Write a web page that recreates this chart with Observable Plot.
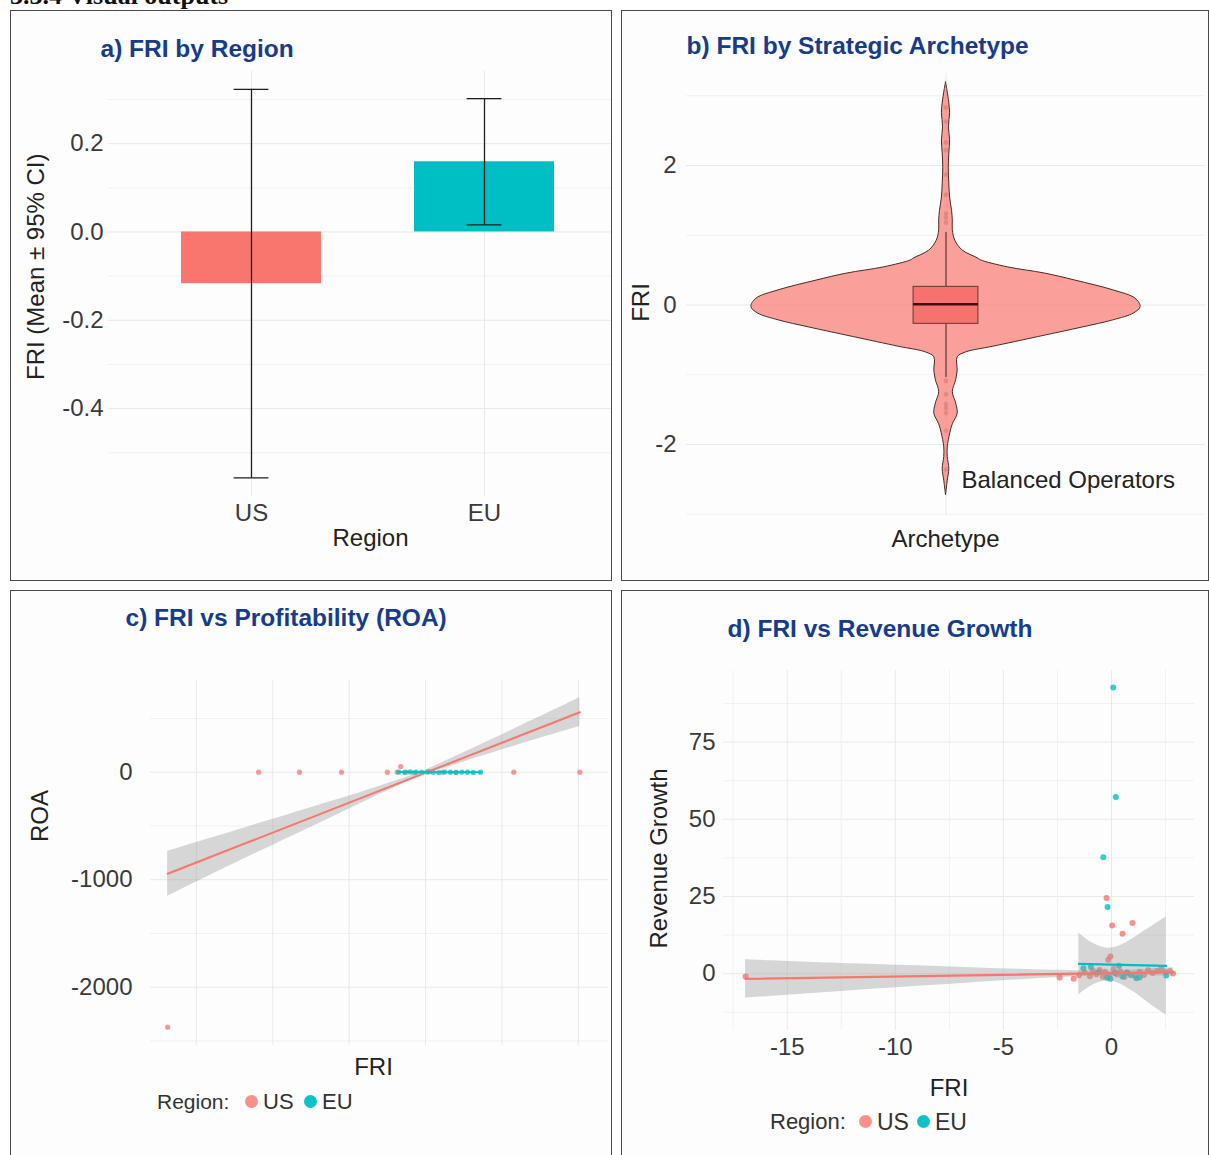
<!DOCTYPE html>
<html>
<head>
<meta charset="utf-8">
<script src="https://cdn.jsdelivr.net/npm/d3@7"></script>
<script src="https://cdn.jsdelivr.net/npm/@observablehq/plot@0.6"></script>
<style>
  html, body { margin: 0; padding: 0; background: #ffffff; }
  body { position: relative; width: 1209px; height: 1155px; overflow: hidden; font-family: "Liberation Sans", Arial, Helvetica, sans-serif; }
  .heading { position: absolute; left: 10px; top: -19px; font: bold 26px "Liberation Serif", "Times New Roman", serif; color: #111; white-space: nowrap; }
  .panel { position: absolute; border: 1px solid #4a4a4a; background: #fdfdfd; box-sizing: content-box; }
  .panel svg { position: absolute; left: 0; top: 0; overflow: visible; }
  .leg { position: absolute; font-size: 21px; color: #333; line-height: 24px; white-space: nowrap; }
  .dot { position: absolute; width: 13px; height: 13px; border-radius: 50%; }
</style>
</head>
<body>
<div class="heading">3.3.4 Visual outputs</div>
<div class="panel" id="pa" style="left:10px;top:10px;width:600px;height:569px"></div>
<div class="panel" id="pb" style="left:621px;top:10px;width:586px;height:569px"></div>
<div class="panel" id="pc" style="left:10px;top:590px;width:600px;height:570px"></div>
<div class="panel" id="pd" style="left:621px;top:590px;width:586px;height:570px"></div>
<script>
// ---------------- DATA ----------------
// a) FRI by Region (mean ± 95% CI)
const regions = ["US", "EU"];
const regionColors = ["#F8766D", "#00BFC4"];
const friMean = [-0.117, 0.159];
const ciLow = [-0.557, 0.016];
const ciHigh = [0.323, 0.302];
const aTicks = [-0.4, -0.2, 0.0, 0.2];
const aMinor = [-0.5, -0.3, -0.1, 0.1, 0.3];

// b) FRI by Strategic Archetype (violin profile read from picture)
const archetypes = ["Balanced Operators"];
const violinFRI = [3.19, 3.08, 2.89, 2.75, 2.55, 2.36, 2.17, 1.97, 1.74, 1.54, 1.35, 1.21, 1.07, 0.92, 0.78, 0.67, 0.64, 0.54, 0.45, 0.35, 0.21, 0.09, -0.03, -0.12, -0.22, -0.32, -0.46, -0.6, -0.68, -0.75, -0.94, -1.08, -1.25, -1.41, -1.56, -1.71, -1.84, -2.04, -2.18, -2.35, -2.52, -2.73];
const violinDensity = [0, 0.007, 0.017, 0.021, 0.015, 0.021, 0.017, 0.014, 0.017, 0.021, 0.031, 0.035, 0.035, 0.048, 0.086, 0.163, 0.18, 0.318, 0.51, 0.665, 0.86, 0.974, 1.0, 0.967, 0.86, 0.706, 0.474, 0.24, 0.103, 0.06, 0.06, 0.052, 0.035, 0.052, 0.06, 0.035, 0.022, 0.009, 0.009, 0.017, 0.009, 0];
const boxQ1 = -0.27, boxMedian = 0.01, boxQ3 = 0.26, whiskerLow = -1.04, whiskerHigh = 1.04;
const violinPoints = [2.83, 2.63, 2.33, 2.22, 1.87, 1.58, 1.31, 1.25, 1.18, -1.09, -1.28, -1.42, -1.48, -1.55, -1.80, -2.36];
const bTicks = [-2, 0, 2];
const bMinor = [-3, -1, 1, 3];

// c) FRI vs Profitability (ROA)
const cUsFri = [-6.75, -4.37, -3.3, -2.2, -1.0, -0.74, -0.65, -0.5, -0.3, 0.1, 0.45, 0.8, 2.31, 4.04];
const cUsRoa = [-2372, 0, 0, 0, 0, 0, 53, 0, -5, 5, 0, -3, 0, 0];
const cEuFri = [-0.7, -0.55, -0.4, -0.25, -0.1, 0.05, 0.2, 0.35, 0.5, 0.65, 0.8, 0.95, 1.1, 1.25, 1.44];
const cEuRoa = [2, -1, 3, 0, -2, 1, 0, -3, 2, 0, -1, 1, 0, -2, 0];
const cUsFitFri = [-6.75, 4.04];
const cUsFitRoa = [-945, 558];
const cEuFitFri = [-0.7, 1.44];
const cEuFitRoa = [2, -1];
const cUsBandFri = [-6.75, -5, -3, -1.5, -0.2, 1, 2.5, 4.04];
const cUsBandLo = [-1155, -850, -512, -258, -50, 95, 262, 425];
const cUsBandHi = [-735, -546, -330, -166, -8, 180, 432, 692];
const cTicks = [-2000, -1000, 0];
const cMinor = [-2500, -1500, -500, 500];
const cXGrid = [-6, -4, -2, 0, 2, 4];

// d) FRI vs Revenue Growth
const dUsFri = [-16.93, -2.4, -1.75, -1.5, -1.25, -1.0, -0.85, -0.7, -0.55, -0.4, -0.23, -0.15, -0.05, 0.03, -0.3, -0.1, 0.1, 0.25, 0.4, 0.51, 0.6, 0.75, 0.97, 1.1, 1.3, 1.5, 1.7, 1.9, 2.1, 2.3, 2.5, 2.7, 2.85];
const dUsRg = [-0.9, -1.2, -1.6, -0.5, 0.4, -0.8, 0.9, -0.2, 1.2, -1.0, 24.5, 4.5, 5.6, 15.6, 0.6, -0.6, 1.5, -0.3, 0.8, 12.9, -1.1, 0.3, 16.4, -0.7, 0.6, -0.4, 1.1, 0.2, 0.9, 1.6, 0.5, 0.9, 0.1];
const dEuFri = [-1.3, -0.95, -0.6, -0.38, -0.18, -0.2, -0.05, 0.08, 0.2, 0.15, 0.35, 0.5, 0.7, 0.9, 1.15, 1.3, 2.53];
const dEuRg = [1.8, 2.2, 0.5, 37.7, 21.6, -1.3, -1.6, 92.7, 57.2, 0.2, 2.6, -0.9, 0.4, -0.5, -1.5, -1.2, -0.6];
const dUsFitFri = [-16.93, 2.85];
const dUsFitRg = [-1.7, 0.52];
const dEuFitFri = [-1.51, 2.53];
const dEuFitRg = [3.2, 2.5];
const dUsBandFri = [-16.93, -12, -8, -4, -0.3, 2.85];
const dUsBandLo = [-7.9, -5.5, -3.7, -1.85, -0.63, -0.9];
const dUsBandHi = [4.5, 3.2, 2.3, 1.35, 0.97, 1.94];
const dEuBandFri = [-1.51, -1.0, -0.5, -0.15, 0.3, 1.0, 1.7, 2.53];
const dEuBandLo = [-6.8, -4.2, -2.7, -2.35, -3.0, -5.8, -9.4, -13.4];
const dEuBandHi = [13.2, 10.4, 8.7, 8.25, 8.8, 11.4, 14.6, 18.4];
const dXTicks = [-15, -10, -5, 0];
const dXMinor = [-17.5, -12.5, -7.5, -2.5, 2.5];
const dYTicks = [0, 25, 50, 75];
const dYMinor = [-12.5, 12.5, 37.5, 62.5, 87.5];

// ---------------- STYLE ----------------
const FONT = '"Liberation Sans", Arial, Helvetica, sans-serif';
const GRID = "#e9e9e9";
const GRID_MINOR = "#f1f1f1";
const TITLE = "#173c8c";
const INK = "#222222";
const baseStyle = {fontFamily: FONT, fontSize: "24px", color: "#3a3a3a", background: "transparent", overflow: "visible"};
const label = (txt, o) => Plot.text([txt], {text: d => d, lineAnchor: "middle", textAnchor: "middle", fill: INK, fontSize: 24, ...o});
const title = (txt, o) => Plot.text([txt], {text: d => d, lineAnchor: "middle", textAnchor: "start", fill: TITLE, fontSize: 24.5, fontWeight: "bold", ...o});
const zip = (keys, ...cols) => cols[0].map((_, i) => Object.fromEntries(keys.map((k, j) => [k, cols[j][i]])));
const ribbonFill = "#9a9a9a";

// ---------------- PANEL A ----------------
const aData = regions.map((r, i) => ({region: r, mean: friMean[i], lo: ciLow[i], hi: ciHigh[i]}));
const pa = Plot.plot({
  width: 600, height: 569, marginLeft: 97, marginRight: 0, marginTop: 59.5, marginBottom: 84,
  style: baseStyle,
  x: {type: "band", domain: regions, range: [99.6, 614], paddingInner: 0.4, paddingOuter: 0.3},
  y: {domain: [-0.599, 0.3645]},
  color: {domain: regions, range: regionColors},
  marks: [
    Plot.gridY(aMinor, {stroke: GRID_MINOR, strokeOpacity: 1}),
    Plot.gridY(aTicks, {stroke: GRID, strokeOpacity: 1}),
    Plot.gridX(regions, {stroke: GRID, strokeOpacity: 1}),
    Plot.barY(aData, {x: "region", y: "mean", fill: "region"}),
    Plot.ruleX(aData, {x: "region", y1: "lo", y2: "hi", stroke: "#1e1e1e", strokeWidth: 1.3}),
    Plot.tickY(aData, {x: "region", y: "lo", stroke: "#1e1e1e", strokeWidth: 1.3, insetLeft: 52.6, insetRight: 52.6}),
    Plot.tickY(aData, {x: "region", y: "hi", stroke: "#1e1e1e", strokeWidth: 1.3, insetLeft: 52.6, insetRight: 52.6}),
    Plot.axisY(aTicks, {tickSize: 0, tickPadding: 5, tickFormat: d => d.toFixed(1), label: null}),
    Plot.axisX({tickSize: 0, tickPadding: 7, label: null}),
    label("Region", {frameAnchor: "bottom", dx: 10.5, dy: 42}),
    label("FRI (Mean ± 95% CI)", {frameAnchor: "left", rotate: -90, dx: -72, dy: -17}),
    title("a) FRI by Region", {frameAnchor: "top-left", dx: -8, dy: -21.5})
  ]
});
document.getElementById("pa").append(pa);

// ---------------- PANEL B ----------------
const violin = zip(["fri", "density"], violinFRI, violinDensity);
const pb = Plot.plot({
  width: 586, height: 569, marginLeft: 64, marginRight: 3, marginTop: 62, marginBottom: 65,
  style: baseStyle,
  x: {domain: [-0.6, 0.6], axis: null},
  y: {domain: [-3.018, 3.319]},
  marks: [
    Plot.gridY(bMinor, {stroke: GRID_MINOR, strokeOpacity: 1}),
    Plot.gridY(bTicks, {stroke: GRID, strokeOpacity: 1}),
    Plot.gridX([0], {stroke: GRID, strokeOpacity: 1}),
    Plot.areaX(violin, {y: "fri", x1: d => -0.45 * d.density, x2: d => 0.45 * d.density, fill: "#F8766D", fillOpacity: 0.7, stroke: "#4a2a27", strokeWidth: 1, curve: "catmull-rom"}),
    Plot.dot(violinPoints, {x: 0, y: d => d, r: 2.4, fill: "#b9645d", fillOpacity: 0.35, stroke: "none"}),
    Plot.ruleX([0], {y1: whiskerLow, y2: boxQ1, stroke: "#3b2220", strokeWidth: 1}),
    Plot.ruleX([0], {y1: boxQ3, y2: whiskerHigh, stroke: "#3b2220", strokeWidth: 1}),
    Plot.rect([0], {x1: -0.075, x2: 0.075, y1: boxQ1, y2: boxQ3, fill: "#F5716A", fillOpacity: 0.95, stroke: "#6a3531", strokeWidth: 1}),
    Plot.ruleY([boxMedian], {x1: -0.075, x2: 0.075, stroke: "#3a1210", strokeWidth: 2.6}),
    Plot.axisY(bTicks, {tickSize: 0, tickPadding: 10, tickFormat: d => String(d), label: null}),
    Plot.text(archetypes, {text: d => d, frameAnchor: "bottom", textAnchor: "start", lineAnchor: "middle", fill: INK, fontSize: 24, dx: 15.5, dy: -35}),
    label("Archetype", {frameAnchor: "bottom", dx: -0.5, dy: 24}),
    label("FRI", {frameAnchor: "left", rotate: -90, dx: -45, dy: 8}),
    title("b) FRI by Strategic Archetype", {frameAnchor: "top-left", dx: 0, dy: -27})
  ]
});
document.getElementById("pb").append(pb);

// ---------------- PANEL C ----------------
const cPoints = [
  ...zip(["fri", "roa"], cUsFri, cUsRoa).map(d => ({...d, region: "US"})),
  ...zip(["fri", "roa"], cEuFri, cEuRoa).map(d => ({...d, region: "EU"}))
];
const cFits = [
  ...zip(["fri", "roa"], cUsFitFri, cUsFitRoa).map(d => ({...d, region: "US"})),
  ...zip(["fri", "roa"], cEuFitFri, cEuFitRoa).map(d => ({...d, region: "EU"}))
];
const cBand = zip(["fri", "lo", "hi"], cUsBandFri, cUsBandLo, cUsBandHi);
const pc = Plot.plot({
  width: 600, height: 564, marginLeft: 139, marginRight: 3, marginTop: 89, marginBottom: 110,
  style: baseStyle,
  x: {domain: [-7.2, 4.79], axis: null},
  y: {domain: [-2542, 853]},
  color: {domain: regions, range: regionColors},
  marks: [
    Plot.gridY(cMinor, {stroke: GRID_MINOR, strokeOpacity: 1}),
    Plot.gridY(cTicks, {stroke: GRID, strokeOpacity: 1}),
    Plot.gridX(cXGrid, {stroke: GRID, strokeOpacity: 1}),
    Plot.dot(cPoints, {x: "fri", y: "roa", fill: "region", r: 2.6, fillOpacity: 0.75}),
    Plot.areaY(cBand, {x: "fri", y1: "lo", y2: "hi", fill: ribbonFill, fillOpacity: 0.4, curve: "catmull-rom"}),
    Plot.line(cFits, {x: "fri", y: "roa", stroke: "region", z: "region", strokeWidth: 2}),
    Plot.axisY(cTicks, {tickSize: 0, tickPadding: 18, tickFormat: d => String(d), label: null}),
    label("FRI", {frameAnchor: "bottom", dx: -6, dy: 22}),
    label("ROA", {frameAnchor: "left", rotate: -90, dx: -110, dy: -47}),
    title("c) FRI vs Profitability (ROA)", {frameAnchor: "top-left", dx: -25, dy: -62})
  ]
});
document.getElementById("pc").append(pc);

// ---------------- PANEL D ----------------
const dPoints = [
  ...zip(["fri", "rg"], dUsFri, dUsRg).map(d => ({...d, region: "US"})),
  ...zip(["fri", "rg"], dEuFri, dEuRg).map(d => ({...d, region: "EU"}))
];
const dFits = [
  ...zip(["fri", "rg"], dUsFitFri, dUsFitRg).map(d => ({...d, region: "US"})),
  ...zip(["fri", "rg"], dEuFitFri, dEuFitRg).map(d => ({...d, region: "EU"}))
];
const dBands = [
  ...zip(["fri", "lo", "hi"], dUsBandFri, dUsBandLo, dUsBandHi).map(d => ({...d, region: "US"})),
  ...zip(["fri", "lo", "hi"], dEuBandFri, dEuBandLo, dEuBandHi).map(d => ({...d, region: "EU"}))
];
const pd = Plot.plot({
  width: 586, height: 564, marginLeft: 101, marginRight: 14, marginTop: 79, marginBottom: 125,
  style: baseStyle,
  x: {domain: [-17.95, 3.84]},
  y: {domain: [-18.4, 98.2]},
  color: {domain: regions, range: regionColors},
  marks: [
    Plot.gridY(dYMinor, {stroke: GRID_MINOR, strokeOpacity: 1}),
    Plot.gridY(dYTicks, {stroke: GRID, strokeOpacity: 1}),
    Plot.gridX(dXMinor, {stroke: GRID_MINOR, strokeOpacity: 1}),
    Plot.gridX(dXTicks, {stroke: GRID, strokeOpacity: 1}),
    Plot.dot(dPoints, {x: "fri", y: "rg", fill: "region", r: 3, fillOpacity: 0.8}),
    Plot.areaY(dBands, {x: "fri", y1: "lo", y2: "hi", z: "region", fill: ribbonFill, fillOpacity: 0.4, curve: "catmull-rom"}),
    Plot.line(dFits, {x: "fri", y: "rg", stroke: "region", z: "region", strokeWidth: 2.2}),
    Plot.axisY(dYTicks, {tickSize: 0, tickPadding: 8, tickFormat: d => String(d), label: null}),
    Plot.axisX(dXTicks, {tickSize: 0, tickPadding: 7, tickFormat: d => String(d), label: null}),
    label("FRI", {frameAnchor: "bottom", dx: -10, dy: 58}),
    label("Revenue Growth", {frameAnchor: "left", rotate: -90, dx: -64, dy: 8}),
    title("d) FRI vs Revenue Growth", {frameAnchor: "top-left", dx: 4, dy: -41})
  ]
});
document.getElementById("pd").append(pd);

// ---------------- LEGENDS ----------------
function legend(spec) {
  const {y, textX, dots, labels, fontSize} = spec;
  const add = (cls, css, txt) => {
    const el = document.createElement("div");
    el.className = cls;
    Object.assign(el.style, css);
    if (txt) el.textContent = txt;
    document.body.append(el);
  };
  add("leg", {left: textX + "px", top: (y - 12) + "px", fontSize: fontSize + "px"}, "Region:");
  regions.forEach((r, i) => {
    add("dot", {left: (dots[i] - 6.5) + "px", top: (y - 6.5) + "px", background: regionColors[i], opacity: i === 0 ? 0.8 : 0.95});
    add("leg", {left: labels[i] + "px", top: (y - 12) + "px", fontSize: (fontSize + 1) + "px"}, r);
  });
}
legend({y: 1101.5, textX: 157, dots: [251.7, 310], labels: [263, 322], fontSize: 21});
legend({y: 1121.5, textX: 770, dots: [865, 923], labels: [877, 935], fontSize: 22});
</script>
</body>
</html>
